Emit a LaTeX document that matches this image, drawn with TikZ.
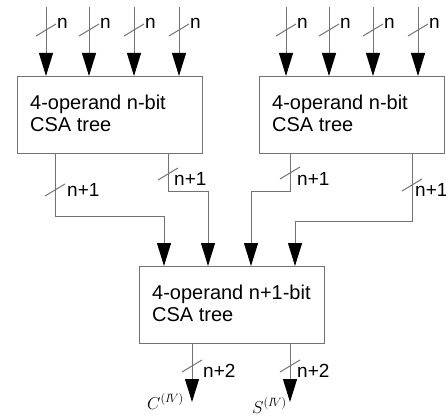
\documentclass[tikz,border=0pt]{standalone}
\usepackage{fontspec}
\setmainfont{Liberation Sans}
\usetikzlibrary{arrows.meta,calc}
\begin{document}
\begin{tikzpicture}[x=1pt,y=-1pt,
  wire/.style={draw=black!55, line width=1pt},
  arr/.style={wire, -{Triangle[width=14pt,length=23pt,color=black]}},
  box/.style={wire, minimum width=185pt, minimum height=77pt, anchor=north west},
  boxtext/.style={anchor=west, align=left, inner sep=0pt,
    font=\fontsize{20}{22}\selectfont},
  lbl/.style={anchor=base west, inner sep=0pt, font=\fontsize{19}{21}\selectfont},
  outl/.style={anchor=base east, inner sep=0pt, font=\fontsize{17}{19}\selectfont}]
\useasboundingbox (0,0) rectangle (446,419);
% boxes
\node[box] (L) at (17,76) {};
\node[box] (R) at (259,76) {};
\node[box] (B) at (139,266) {};
\node[boxtext] (Lt) at ([xshift=13pt,yshift=2pt]L.west) {4-operand n-bit\\CSA tree};
\node[boxtext] (Rt) at ([xshift=13pt,yshift=2pt]R.west) {4-operand n-bit\\CSA tree};
\node[boxtext] (Bt) at ([xshift=13pt,yshift=2pt]B.west) {4-operand n+1-bit\\CSA tree};
% inputs
\foreach \x [count=\i] in {46,89,134,179,286,329,373,418}{
  \coordinate (in\i) at (\x,7);
}
\foreach \i in {1,2,3,4}{
  \draw[arr] (in\i) -- (in\i |- L.north);
}
\foreach \i in {5,6,7,8}{
  \draw[arr] (in\i) -- (in\i |- R.north);
}
\foreach \x in {46,89,134,179,286,329,373,418}{
  \draw[wire] (\x-10,36) -- (\x+10,24);
  \node[lbl] at (\x+11,29) {n};
}
% second level
\draw[arr] ([xshift=38pt]L.south west) |- (164,217) -- ([xshift=25pt]B.north west);
\draw[arr] ([xshift=151pt]L.south west) |- (208,192) -- ([xshift=69pt]B.north west);
\draw[arr] ([xshift=31pt]R.south west) |- (251,192) -- ([xshift=112pt]B.north west);
\draw[arr] ([xshift=153pt]R.south west) |- (295,222) -- ([xshift=156pt]B.north west);
\draw[wire] (45,196) -- (65,184);
\node[lbl] at (67,197) {n+1};
\draw[wire] (158,180) -- (178,168);
\node[lbl] at (174,186) {n+1};
\draw[wire] (280,179) -- (300,167);
\node[lbl] at (297,186) {n+1};
\draw[wire] (402,191) -- (422,179);
\node[lbl] at (415,197) {n+1};
% outputs
\coordinate (c) at (192,402);
\coordinate (s) at (290,402);
\draw[arr] (c |- B.south) -- (c);
\draw[arr] (s |- B.south) -- (s);
\draw[wire] (182,372) -- (202,360);
\node[lbl] at (203,377) {n+2};
\draw[wire] (280,372) -- (300,360);
\node[lbl] at (297,377) {n+2};
\node[outl] at ($(c)+(-8,7)$) {$C^{(I\!V)}$};
\node[outl] at ($(s)+(-3,11)$) {$S^{(I\!V)}$};
\end{tikzpicture}
\end{document}
